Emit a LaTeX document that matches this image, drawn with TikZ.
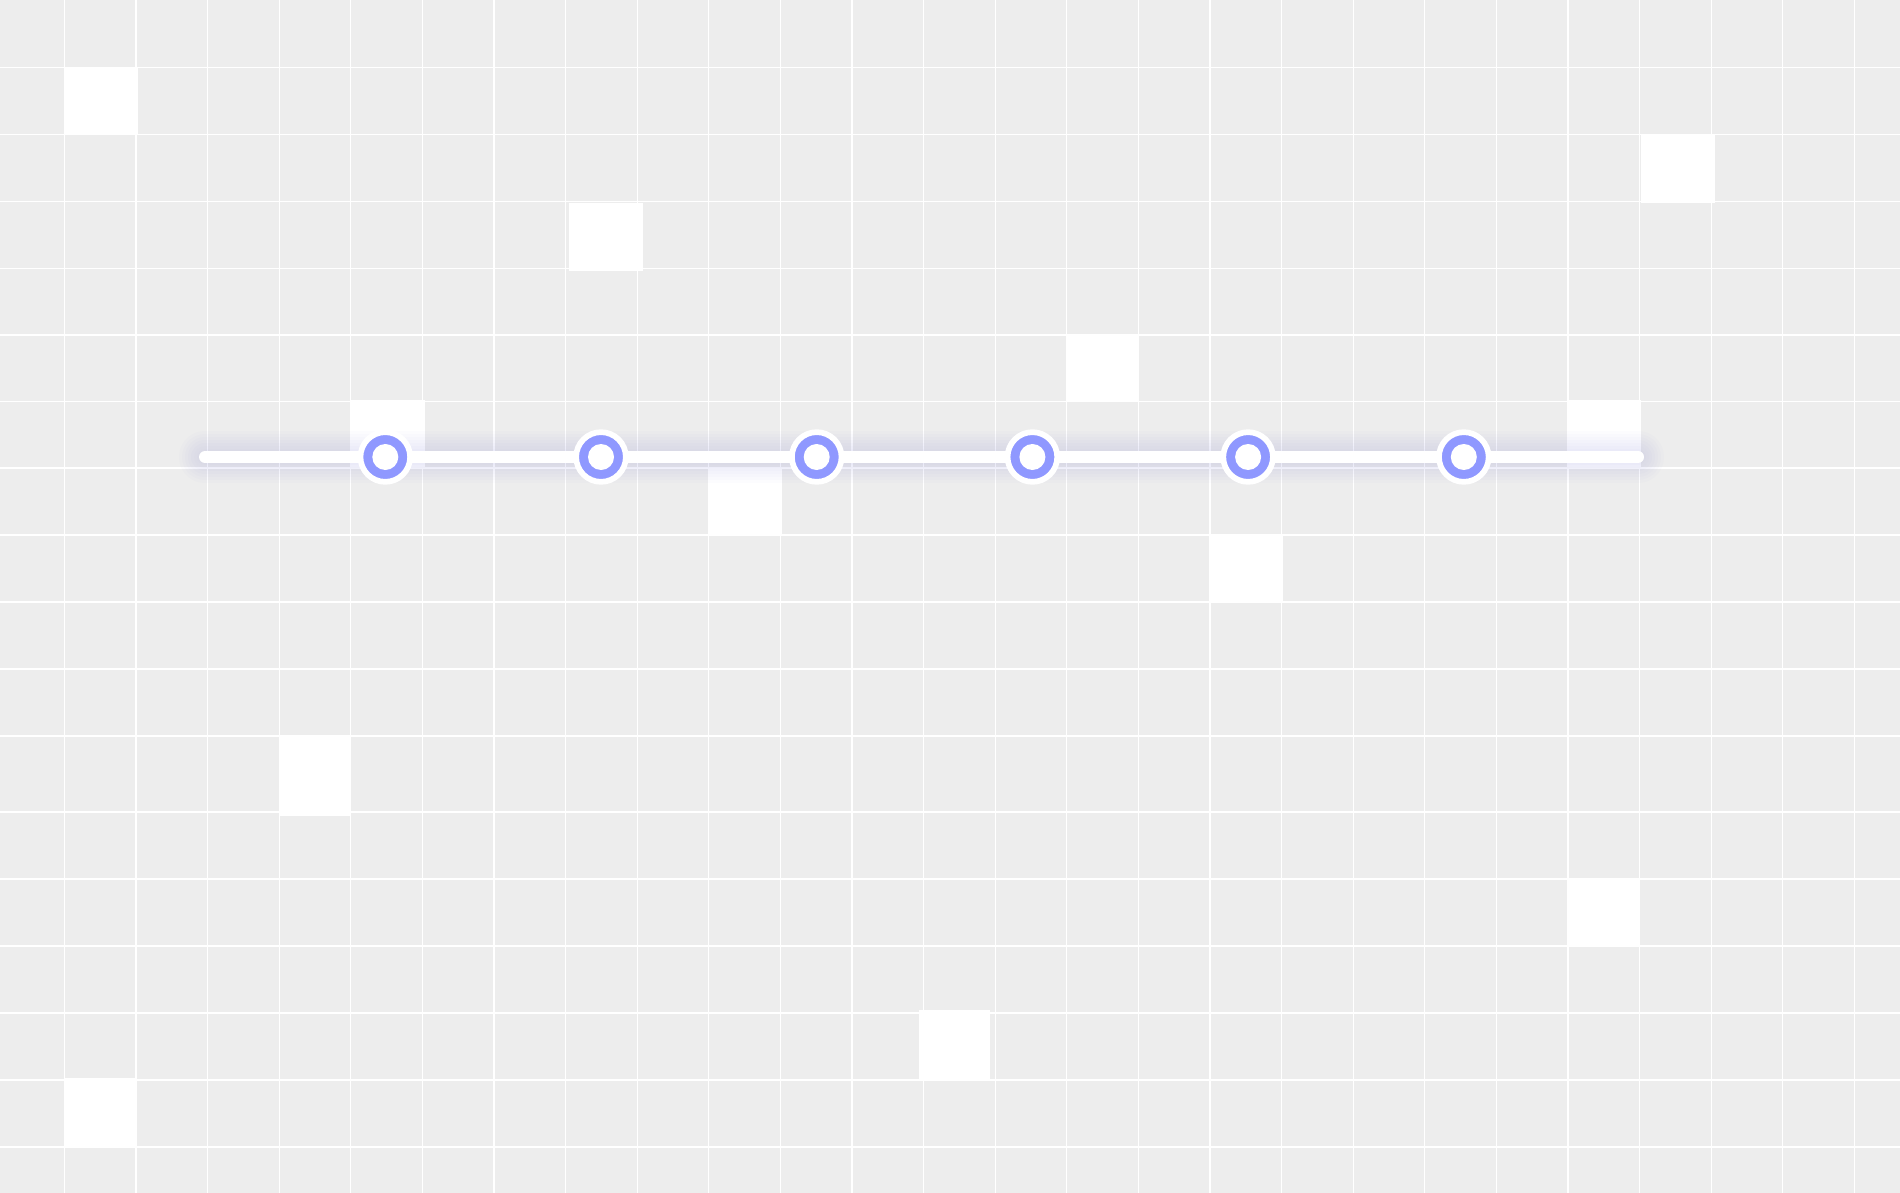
\documentclass[tikz,border=0pt]{standalone}
\usetikzlibrary{positioning}
\definecolor{fondo}{RGB}{237,237,237}
\definecolor{anillo}{RGB}{143,152,255}
\definecolor{halo}{RGB}{160,160,225}
\tikzset{
  rejilla/.style={white, line width=1.2pt},
  casilla/.style={fill=white, draw=none},
  hito/.style={circle, fill=anillo, draw=white, line width=5.7pt, minimum size=49.7pt, inner sep=0pt,
    path picture={\fill[white] (path picture bounding box.center) circle (13pt);}},
}
\begin{document}
\begin{tikzpicture}[x=1pt, y=-1pt]
            % Fondo
            \fill[fondo] (0,0) rectangle (1900,1193);
            \useasboundingbox (0,0) rectangle (1900,1193);
            % Rejilla
            \foreach \k in {0,...,25}
                \draw[rejilla] ({64.3+71.6*\k},0) -- ++(0,1193);
            \foreach \y in {67.3,134.3,201.3,268.3,335,401.5,468,535,602,669,736,812,879,946,1013,1080,1147}
                \draw[rejilla] (0,\y) -- (1900,\y);
            % Casillas blancas
            \foreach \xa/\ya/\xb/\yb in {64.3/67.3/137.7/134.3, 569/203/643/270.7, 1640.7/134.3/1715/202.7,
                1066/334/1139/401, 350.7/400/425/468, 1567.3/400/1640.7/468, 708.3/469/781.7/535,
                1209/534/1282.7/602.7, 279.3/736.7/350.7/815.7, 1568/878.5/1639.5/946.3,
                919/1010/990/1079, 64.3/1077.7/135/1147.3}
                \fill[casilla] (\xa,\ya) rectangle (\xb,\yb);
            % Linea con halo
            \coordinate (inicio) at (205,457);
            \coordinate (fin) at (1638,457);
            \foreach \w in {16,22,28,34,40,46,52}
                \draw[halo, opacity=0.03, line width=\w pt, line cap=round] (inicio) -- (fin);
            \draw[white, line width=12pt, line cap=round] (inicio) -- (fin);
            % Hitos
            \foreach \i in {1,...,6}
                \node[hito] (h\i) at ({385.3+215.7*(\i-1)},457) {};
        \end{tikzpicture}
\end{document}
